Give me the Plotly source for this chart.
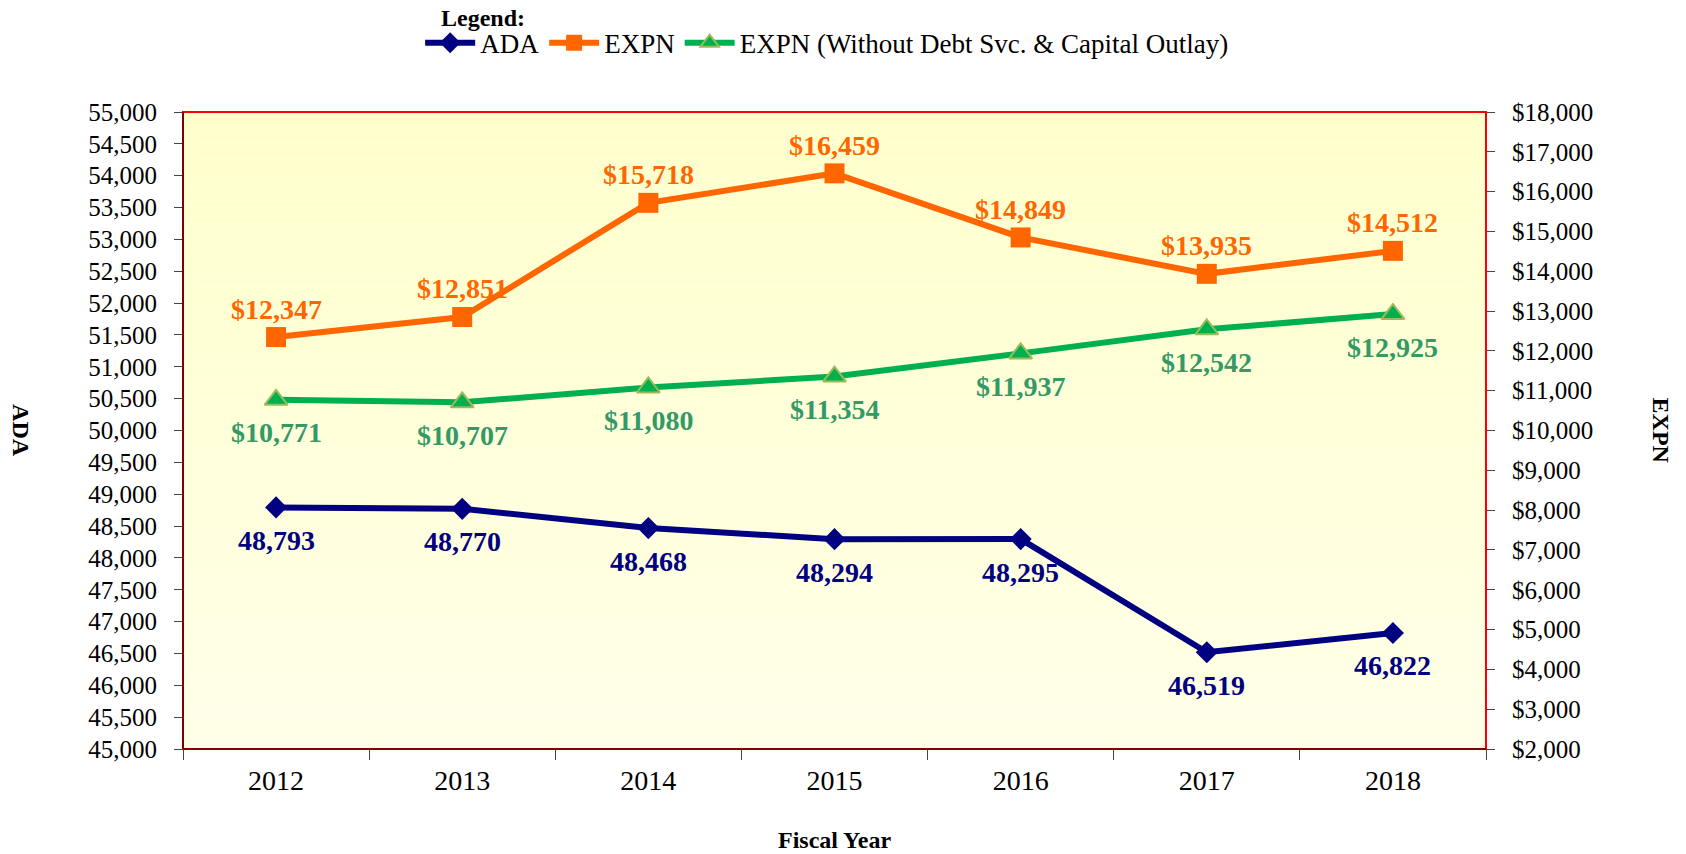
import plotly.graph_objects as go

years = ["2012", "2013", "2014", "2015", "2016", "2017", "2018"]
ada = [48793, 48770, 48468, 48294, 48295, 46519, 46822]
expn = [12347, 12851, 15718, 16459, 14849, 13935, 14512]
expn_wo = [10771, 10707, 11080, 11354, 11937, 12542, 12925]

FONT = "Liberation Serif"
NAVY = "#000080"
ORANGE = "#FF6600"
GREEN = "#00B050"
GREEN_TXT = "#339966"

fig = go.Figure()

fig.add_trace(go.Scatter(
    x=years, y=ada, name="ADA", mode="lines+markers",
    line=dict(color=NAVY, width=6),
    marker=dict(symbol="diamond", size=17, color=NAVY),
    yaxis="y"))

fig.add_trace(go.Scatter(
    x=years, y=expn, name="EXPN", mode="lines+markers",
    line=dict(color=ORANGE, width=6),
    marker=dict(symbol="square", size=20, color=ORANGE),
    yaxis="y2"))

fig.add_trace(go.Scatter(
    x=years, y=expn_wo, name="EXPN (Without Debt Svc. & Capital Outlay)",
    mode="lines+markers",
    line=dict(color=GREEN, width=6),
    marker=dict(symbol="triangle-up", size=20, color=GREEN,
                line=dict(color="#9BBB59", width=2)),
    yaxis="y2"))

# value labels (category axis positions given by category index)
annotations = []
for i, v in enumerate(ada):
    annotations.append(dict(x=i, y=v, xref="x", yref="y", text=f"<b>{v:,}</b>",
                            showarrow=False, yshift=-33, yanchor="middle",
                            font=dict(family=FONT, size=28, color=NAVY)))
for i, v in enumerate(expn):
    annotations.append(dict(x=i, y=v, xref="x", yref="y2", text=f"<b>${v:,}</b>",
                            showarrow=False, yshift=28, yanchor="middle",
                            font=dict(family=FONT, size=28, color=ORANGE)))
for i, v in enumerate(expn_wo):
    annotations.append(dict(x=i, y=v, xref="x", yref="y2", text=f"<b>${v:,}</b>",
                            showarrow=False, yshift=-33, yanchor="middle",
                            font=dict(family=FONT, size=28, color=GREEN_TXT)))

annotations += [
    dict(text="<b>Legend:</b>", xref="paper", yref="paper", x=0.2305, y=1.147,
         xanchor="center", yanchor="middle", showarrow=False,
         font=dict(family=FONT, size=24)),
    dict(text="<b>ADA</b>", xref="paper", yref="paper", x=-0.124, y=0.5,
         xanchor="center", yanchor="middle", textangle=90, showarrow=False,
         font=dict(family=FONT, size=24)),
    dict(text="<b>EXPN</b>", xref="paper", yref="paper", x=1.135, y=0.5,
         xanchor="center", yanchor="middle", textangle=90, showarrow=False,
         font=dict(family=FONT, size=24)),
    dict(text="<b>Fiscal Year</b>", xref="paper", yref="paper", x=0.5, y=-0.143,
         xanchor="center", yanchor="middle", showarrow=False,
         font=dict(family=FONT, size=24)),
]

# gradient background bands
shapes = []
n = 40
top = (255, 255, 204)
bot = (255, 255, 232)
for i in range(n):
    t = i / (n - 1)
    c = tuple(round(top[k] + (bot[k] - top[k]) * t) for k in range(3))
    shapes.append(dict(type="rect", xref="x domain", yref="y domain",
                       x0=0, x1=1, y0=1 - (i + 1) / n, y1=1 - i / n,
                       fillcolor=f"rgb{c}", line=dict(width=0), layer="below"))
shapes.append(dict(type="rect", xref="x domain", yref="y domain",
                   x0=0, x1=1, y0=0, y1=1,
                   line=dict(color="red", width=2), layer="above"))
shapes.append(dict(type="line", xref="x domain", yref="y domain",
                   x0=0, x1=0, y0=0, y1=1,
                   line=dict(color="black", width=1), layer="above"))
shapes.append(dict(type="line", xref="x domain", yref="y domain",
                   x0=0, x1=1, y0=0, y1=0,
                   line=dict(color="black", width=1), layer="above"))

fig.update_layout(
    width=1686, height=854,
    margin=dict(l=175, r=208, t=104, b=113, autoexpand=False),
    paper_bgcolor="white", plot_bgcolor="rgba(0,0,0,0)",
    font=dict(family=FONT, color="black"),
    shapes=shapes,
    annotations=annotations,
    showlegend=True,
    legend=dict(orientation="h", x=0.182, y=1.108, xanchor="left", yanchor="middle",
                font=dict(family=FONT, size=27), itemwidth=50,
                bgcolor="rgba(0,0,0,0)", tracegroupgap=0),
    xaxis=dict(type="category", range=[-0.5, 6.5], showgrid=False,
               tickson="boundaries", ticks="outside", ticklen=10, tickcolor="#444",
               ticklabelstandoff=12,
               tickfont=dict(family=FONT, size=28), showline=False, zeroline=False),
    yaxis=dict(range=[45000, 55000], dtick=500, tickformat=",d", showgrid=False,
               ticks="outside", ticklen=8, tickcolor="#444", ticklabelstandoff=12,
               tickfont=dict(family=FONT, size=25), zeroline=False),
    yaxis2=dict(range=[2000, 18000], dtick=1000, tickprefix="$", tickformat=",d",
                overlaying="y", side="right", showgrid=False,
                ticks="outside", ticklen=8, tickcolor="#444", ticklabelstandoff=12,
                tickfont=dict(family=FONT, size=25), zeroline=False),
)

fig.write_html("out.html")
